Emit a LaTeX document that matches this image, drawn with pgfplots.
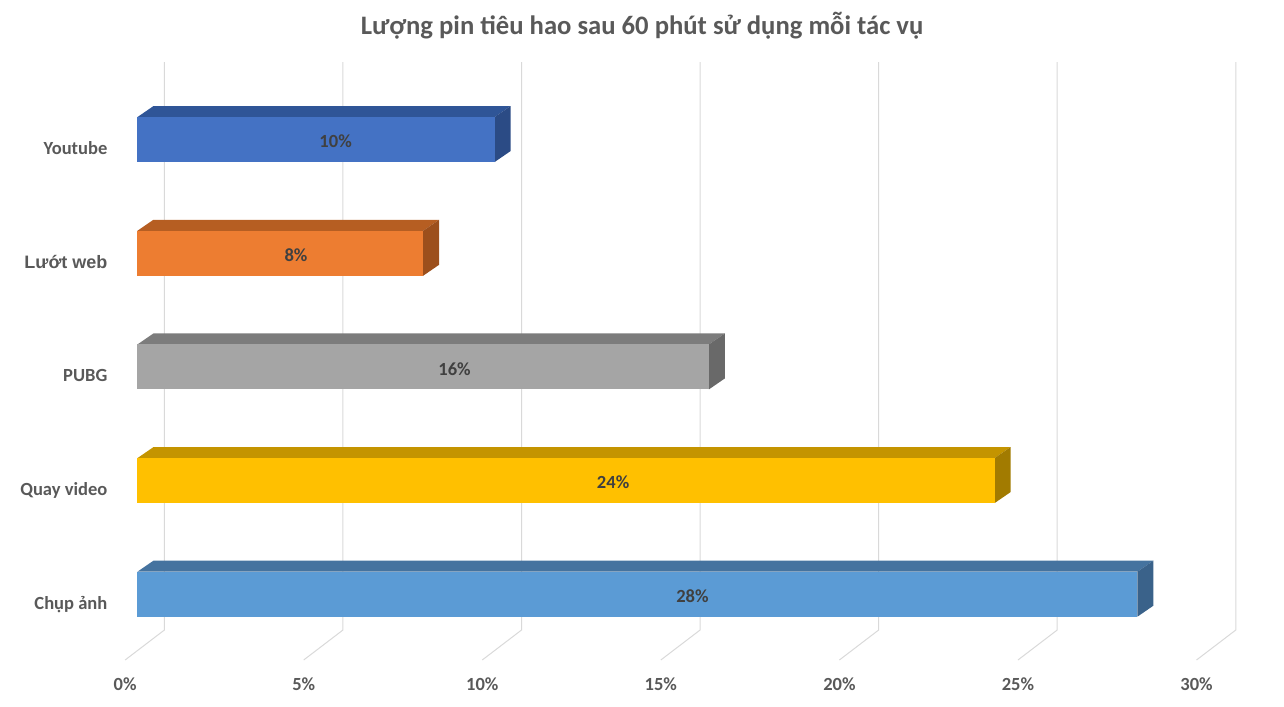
\documentclass[border=0pt]{standalone}
\usepackage{pgfplots}
\pgfplotsset{compat=1.18}
\usepackage{pgfplotstable}
\usepackage{fontspec}
\setmainfont{Carlito}
\newfontfamily\arialfont{Liberation Sans}

\definecolor{txt}{HTML}{595959}
\definecolor{lbl}{HTML}{404040}
\definecolor{gridc}{HTML}{D9D9D9}
% front / top / side of each bar
\definecolor{ytF}{HTML}{4472C4}\definecolor{ytT}{HTML}{2F5597}\definecolor{ytS}{HTML}{2B4B85}
\definecolor{lwF}{HTML}{ED7D31}\definecolor{lwT}{HTML}{B65E22}\definecolor{lwS}{HTML}{9C4F1C}
\definecolor{pbF}{HTML}{A5A5A5}\definecolor{pbT}{HTML}{7C7C7C}\definecolor{pbS}{HTML}{696969}
\definecolor{qvF}{HTML}{FFC000}\definecolor{qvT}{HTML}{C49400}\definecolor{qvS}{HTML}{A27B00}
\definecolor{caF}{HTML}{5B9BD5}\definecolor{caT}{HTML}{45739F}\definecolor{caS}{HTML}{3A628A}

% y = bar centre (in pixel rows from bottom), v = battery used in %
\pgfplotstableread{
y     v
566.5 10
452.8 8
339.1 16
225.4 24
111.8 28
}\pct

\begin{document}
\begin{tikzpicture}
\begin{axis}[
  scale only axis,
  width=963pt, height=529.5pt,
  xmin=-3.8438, xmax=32.102,
  ymin=0, ymax=706,
  axis line style={draw=none},
  major tick length=0pt,
  clip=false,
  unbounded coords=jump,
  xtick={0,5,...,30},
  xticklabels={0\%,5\%,10\%,15\%,20\%,25\%,30\%},
  xticklabel style={anchor=base, xshift=-9.2pt, yshift=11.25pt},
  ytick={97,211,324.5,438,552},
  yticklabels={Chụp ảnh,Quay video,PUBG,{\fontsize{13.5}{16}\selectfont\arialfont Lướt web},Youtube},
  yticklabel style={anchor=base east, inner xsep=0pt, xshift=80.6pt},
  ticklabel style={font=\fontsize{13.9}{16}\selectfont\bfseries, text=txt},
  title={Lượng pin tiêu hao sau 60 phút sử dụng mỗi tác vụ},
  title style={at={(axis description cs:0.5,0.9405)}, anchor=base,
    font=\fontsize{20}{24}\selectfont\bfseries, text=txt},
]
% back-wall gridlines with the floor lines
\addplot[gridc, line width=0.75pt] coordinates {
  (-0.344,46) (0.756,76) (0.756,644) (nan,nan)
  (4.656,46) (5.756,76) (5.756,644) (nan,nan)
  (9.656,46) (10.756,76) (10.756,644) (nan,nan)
  (14.656,46) (15.756,76) (15.756,644) (nan,nan)
  (19.656,46) (20.756,76) (20.756,644) (nan,nan)
  (24.656,46) (25.756,76) (25.756,644) (nan,nan)
  (29.656,46) (30.756,76) (30.756,644)
};

% Youtube 10%
\addplot[fill=ytT, draw=none] coordinates {(0,589) (10,589) (10.448,600) (0.448,600)} -- cycle;
\addplot[fill=ytS, draw=none] coordinates {(10,544) (10.448,555) (10.448,600) (10,589)} -- cycle;
\addplot[xbar, bar width=45, bar shift=0pt, fill=ytF, draw=none] coordinates {(10,566.5)};
% Lướt web 8%
\addplot[fill=lwT, draw=none] coordinates {(0,475.3) (8,475.3) (8.448,486.3) (0.448,486.3)} -- cycle;
\addplot[fill=lwS, draw=none] coordinates {(8,430.3) (8.448,441.3) (8.448,486.3) (8,475.3)} -- cycle;
\addplot[xbar, bar width=45, bar shift=0pt, fill=lwF, draw=none] coordinates {(8,452.8)};
% PUBG 16%
\addplot[fill=pbT, draw=none] coordinates {(0,361.6) (16,361.6) (16.448,372.6) (0.448,372.6)} -- cycle;
\addplot[fill=pbS, draw=none] coordinates {(16,316.6) (16.448,327.6) (16.448,372.6) (16,361.6)} -- cycle;
\addplot[xbar, bar width=45, bar shift=0pt, fill=pbF, draw=none] coordinates {(16,339.1)};
% Quay video 24%
\addplot[fill=qvT, draw=none] coordinates {(0,247.9) (24,247.9) (24.448,258.9) (0.448,258.9)} -- cycle;
\addplot[fill=qvS, draw=none] coordinates {(24,202.9) (24.448,213.9) (24.448,258.9) (24,247.9)} -- cycle;
\addplot[xbar, bar width=45, bar shift=0pt, fill=qvF, draw=none] coordinates {(24,225.4)};
% Chụp ảnh 28%
\addplot[fill=caT, draw=none] coordinates {(0,134.3) (28,134.3) (28.448,145.3) (0.448,145.3)} -- cycle;
\addplot[fill=caS, draw=none] coordinates {(28,89.3) (28.448,100.3) (28.448,145.3) (28,134.3)} -- cycle;
\addplot[xbar, bar width=45, bar shift=0pt, fill=caF, draw=none] coordinates {(28,111.8)};

% data labels
\addplot[draw=none, point meta=explicit,
  nodes near coords={\pgfmathprintnumber[assume math mode=true]{\pgfplotspointmeta}\%},
  every node near coord/.append style={anchor=center, yshift=-1.5pt, text=lbl,
    font=\fontsize{13.9}{16}\selectfont\bfseries}]
  table[x expr=\thisrow{v}*0.555, y=y, meta=v] {\pct};
\end{axis}
\end{tikzpicture}
\end{document}
